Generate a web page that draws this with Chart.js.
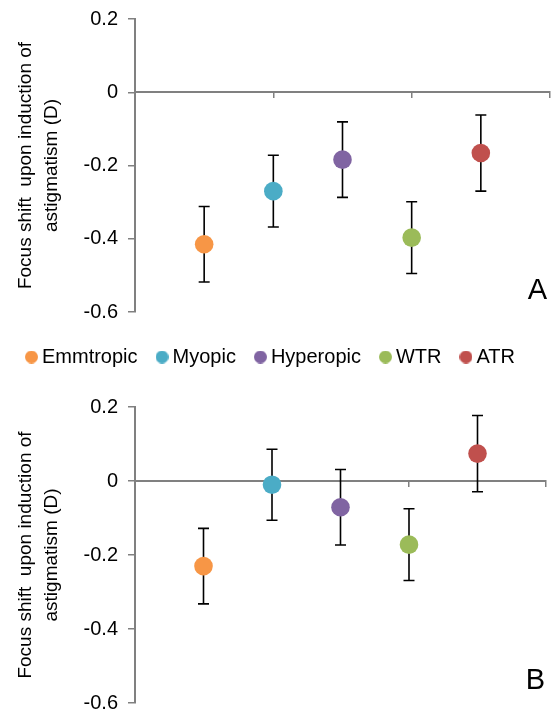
<!DOCTYPE html>
<html>
<head>
<meta charset="utf-8">
<script src="https://cdn.jsdelivr.net/npm/chart.js@4.4.1/dist/chart.umd.min.js"></script>
<style>
  html, body { margin: 0; padding: 0; background: #fff; overflow: hidden; }
  #wrap { position: relative; width: 556px; height: 710px; overflow: hidden; }
  .box { position: absolute; left: 0; width: 556px; }
  #boxA { top: 0; height: 335px; }
  #boxB { top: 323px; height: 397px; }
</style>
</head>
<body>
<div id="wrap">
  <div class="box" id="boxA"><canvas id="chartA"></canvas></div>
  <div class="box" id="boxB"><canvas id="chartB"></canvas></div>
</div>
<script>
const groups = ['Emmtropic', 'Myopic', 'Hyperopic', 'WTR', 'ATR'];
const colors = ['#F79646', '#4BACC6', '#8064A2', '#9BBB59', '#C0504D'];
const xPos = [1, 2, 3, 4, 5];
// panel A
const meanA = [-0.415, -0.270, -0.184, -0.397, -0.166];
const errA = [0.103, 0.098, 0.103, 0.098, 0.104];
// panel B
const meanB = [-0.230, -0.010, -0.071, -0.172, 0.074];
const errB = [0.102, 0.096, 0.102, 0.097, 0.103];
const yTicks = [-0.6, -0.4, -0.2, 0, 0.2];
const yTitle = ['Focus shift  upon induction of', 'astigmatism (D)'];

Chart.defaults.font.family = '"Liberation Sans", Arial, sans-serif';
Chart.defaults.color = '#000';

// small round swatches for the legend (sit close to the text like the original)
function dot(color) {
  const c = document.createElement('canvas');
  c.width = 13; c.height = 13;
  const g = c.getContext('2d');
  g.fillStyle = color;
  g.beginPath();
  g.arc(6.5, 6.5, 6.5, 0, Math.PI * 2);
  g.fill();
  return c;
}
const legendDots = colors.map(dot);

// black error bars, drawn under the markers
const errorBars = {
  id: 'errorBars',
  beforeDatasetsDraw(chart) {
    const {ctx, scales: {x, y}} = chart;
    ctx.save();
    ctx.strokeStyle = '#000';
    ctx.lineWidth = 1.6;
    chart.data.datasets.forEach(ds => {
      ds.data.forEach(p => {
        const px = x.getPixelForValue(p.x);
        const top = y.getPixelForValue(p.y + p.err);
        const bot = y.getPixelForValue(p.y - p.err);
        ctx.beginPath();
        ctx.moveTo(px, top); ctx.lineTo(px, bot);
        ctx.moveTo(px - 5.5, top); ctx.lineTo(px + 5.5, top);
        ctx.moveTo(px - 5.5, bot); ctx.lineTo(px + 5.5, bot);
        ctx.stroke();
      });
    });
    ctx.restore();
  }
};

// big panel letter in the lower right corner
const panelLetter = {
  id: 'panelLetter',
  afterDraw(chart, args, opts) {
    const {ctx, chartArea} = chart;
    ctx.save();
    ctx.font = '29px "Liberation Sans", Arial, sans-serif';
    ctx.fillStyle = '#000';
    ctx.textAlign = 'right';
    ctx.textBaseline = 'alphabetic';
    ctx.fillText(opts.text, chartArea.right - opts.dx, chartArea.bottom - opts.dy);
    ctx.restore();
  }
};

// extra room below the legend
const legendGap = {
  id: 'legendGap',
  beforeInit(chart) {
    if (!chart.legend) return;
    const fit = chart.legend.fit;
    chart.legend.fit = function () {
      fit.call(this);
      this.height += 30;
    };
  }
};

function makeChart(id, means, errs, cfg) {
  const datasets = groups.map((g, i) => ({
    label: g,
    data: [{x: xPos[i], y: means[i], err: errs[i]}],
    backgroundColor: colors[i],
    borderColor: colors[i],
    pointRadius: 9.3,
    pointBorderWidth: 0,
    pointStyle: 'circle'
  }));

  return new Chart(document.getElementById(id), {
    type: 'scatter',
    data: {datasets},
    options: {
      responsive: true,
      maintainAspectRatio: false,
      animation: false,
      events: [],
      layout: {padding: cfg.padding, autoPadding: false},
      scales: {
        x: {
          type: 'linear',
          position: {y: 0},
          min: 0,
          max: 6,
          ticks: {display: false, stepSize: 2},
          grid: {display: true, drawOnChartArea: false, drawTicks: true, tickLength: 5, color: '#808080', lineWidth: 1.5},
          border: {display: true, color: '#808080', width: 2}
        },
        y: {
          min: -0.6,
          max: 0.2,
          afterBuildTicks: s => { s.ticks = yTicks.map(v => ({value: v})); },
          afterFit: s => { s.width = 135; s.paddingTop = 0; s.paddingBottom = 0; },
          ticks: {
            padding: 10,
            font: {size: 20},
            color: '#000',
            callback: v => Math.abs(v) < 1e-9 ? '0' : v.toFixed(1)
          },
          grid: {display: true, drawOnChartArea: false, drawTicks: true, tickLength: 7, color: '#808080', lineWidth: 1.5},
          border: {display: true, color: '#808080', width: 2},
          title: {
            display: true,
            text: yTitle,
            color: '#000',
            font: {size: 19, lineHeight: 1.4},
            padding: {top: 12, bottom: 0}
          }
        }
      },
      plugins: {
        legend: cfg.legend ? {
          display: true,
          position: 'top',
          labels: {
            usePointStyle: true,
            boxHeight: 9.2,
            pointStyleWidth: 1,
            padding: 24,
            color: '#000',
            font: {size: 20},
            generateLabels: chart => Chart.defaults.plugins.legend.labels.generateLabels(chart)
              .map((l, i) => Object.assign(l, {pointStyle: legendDots[i]}))
          }
        } : {display: false},
        tooltip: {enabled: false},
        panelLetter: cfg.letter
      }
    },
    plugins: cfg.legend ? [errorBars, panelLetter, legendGap] : [errorBars, panelLetter]
  });
}

makeChart('chartA', meanA, errA, {
  padding: {top: 19, right: 6, bottom: 23, left: 0},
  legend: false,
  letter: {text: 'A', dx: 3, dy: 13}
});

makeChart('chartB', meanB, errB, {
  padding: {top: 0, right: 10, bottom: 17, left: 0},
  legend: true,
  letter: {text: 'B', dx: 1, dy: 14}
});
</script>
</body>
</html>
